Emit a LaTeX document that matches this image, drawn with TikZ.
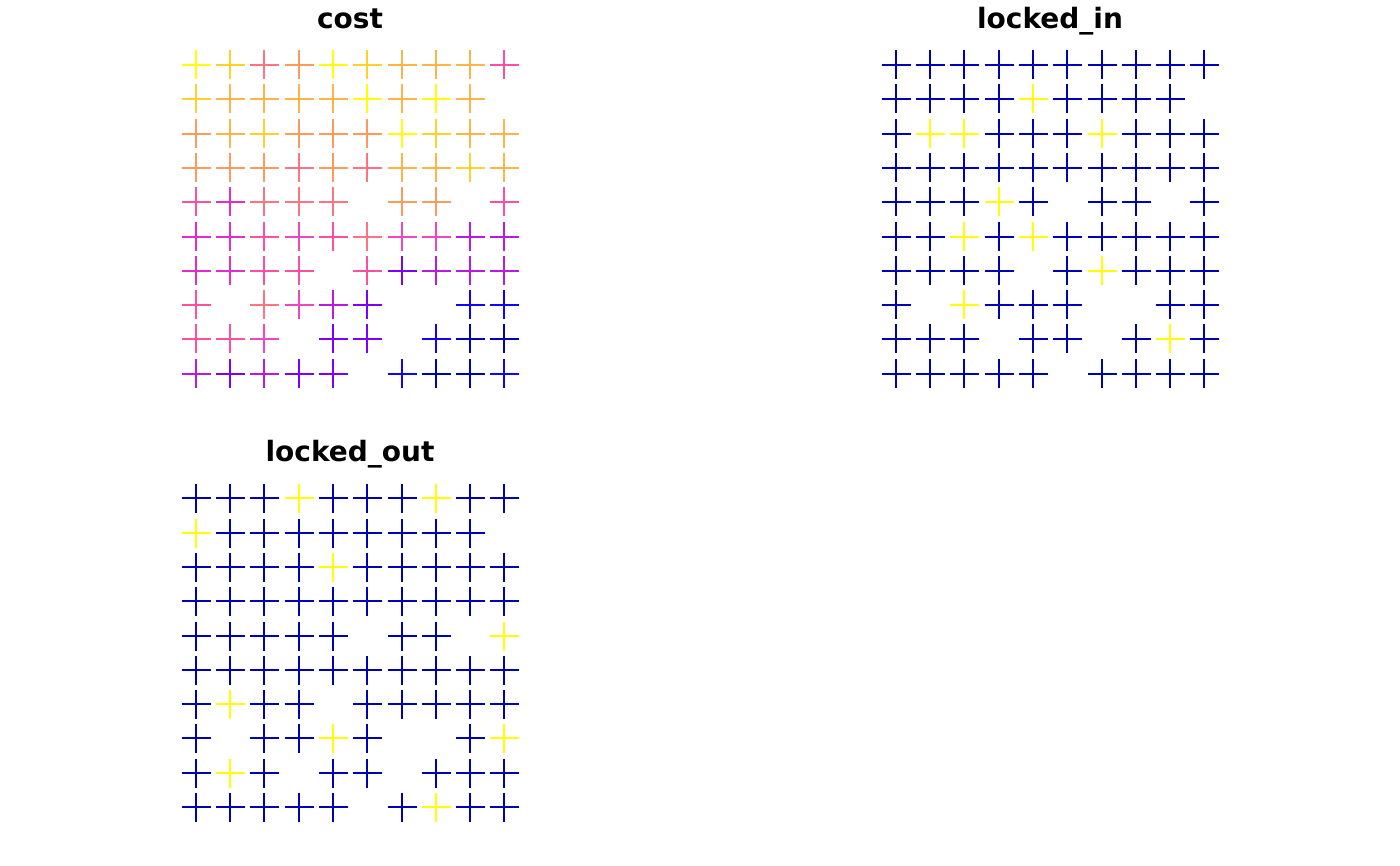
\documentclass[tikz,border=0pt]{standalone}
\usepackage{fontspec}
\setmainfont{DejaVu Sans}
\definecolor{navy}{HTML}{0000B4}
\definecolor{blu}{HTML}{1400FF}
\definecolor{vio}{HTML}{7A00FF}
\definecolor{pur}{HTML}{B51BE3}
\definecolor{mag}{HTML}{E22CCB}
\definecolor{mgp}{HTML}{F046C0}
\definecolor{pnk}{HTML}{FF4FA0}
\definecolor{slm}{HTML}{FF7484}
\definecolor{sor}{HTML}{FF9A5E}
\definecolor{org}{HTML}{FFB446}
\definecolor{gld}{HTML}{FFD22A}
\definecolor{yel}{HTML}{FFFF00}
\tikzset{
  cN/.style={draw=navy}, cB/.style={draw=blu}, cV/.style={draw=vio},
  cU/.style={draw=pur}, cM/.style={draw=mag}, cQ/.style={draw=mgp},
  cP/.style={draw=pnk}, cS/.style={draw=slm}, cO/.style={draw=sor},
  cA/.style={draw=org}, cG/.style={draw=gld}, cY/.style={draw=yel},
  cX/.style={draw=none},
  paneltitle/.style={font=\bfseries\fontsize{21}{24}\selectfont, anchor=base, inner sep=0pt}
}
% one plus marker at a coordinate
\newcommand{\plusmark}[2]{\draw[#1] (#2) ++(-14.5,0) -- ++(29,0) (#2) ++(0,-14.5) -- ++(0,29);}
% a 10x10 panel of markers, one colour code per cell (X = no cell)
\newcommand{\panel}[3]{%
  \foreach \row [count=\r] in {#3} {
    \foreach \col [count=\c] in \row {
      \coordinate (pt) at ({round(#1+34.3*(\c-1))},{round(#2+34.3*(\r-1))});
      \plusmark{c\col}{pt}
    }
  }}

\begin{document}
\begin{tikzpicture}[x=0.75pt,y=-0.75pt,line width=1.5pt]
\useasboundingbox (0,0) rectangle (1400,866);

\node[paneltitle] (costtitle) at (350,29) {cost};
\node[paneltitle] (intitle) at (1050,29) {locked\_in};
\node[paneltitle] (outtitle) at (350,461) {locked\_out};

%cost
\panel{195.7}{65}{
  {Y,G,S,O,Y,G,A,A,A,P},
  {G,A,A,A,A,Y,A,Y,A,X},
  {O,A,G,O,O,O,Y,G,A,A},
  {O,O,O,S,O,S,A,A,G,A},
  {P,M,S,S,S,X,O,O,X,P},
  {M,M,P,Q,P,S,Q,Q,U,U},
  {M,M,P,P,X,P,V,U,U,U},
  {P,X,S,Q,U,V,X,X,B,B},
  {P,P,Q,X,V,V,X,B,N,N},
  {U,V,U,V,V,X,B,N,N,B}}

%locked_in
\panel{895.7}{65}{
  {N,N,N,N,N,N,N,N,N,N},
  {N,N,N,N,Y,N,N,N,N,X},
  {N,Y,Y,N,N,N,Y,N,N,N},
  {N,N,N,N,N,N,N,N,N,N},
  {N,N,N,Y,N,X,N,N,X,N},
  {N,N,Y,N,Y,N,N,N,N,N},
  {N,N,N,N,X,N,Y,N,N,N},
  {N,X,Y,N,N,N,X,X,N,N},
  {N,N,N,X,N,N,X,N,Y,N},
  {N,N,N,N,N,X,N,N,N,N}}

%locked_out
\panel{195.7}{498.3}{
  {N,N,N,Y,N,N,N,Y,N,N},
  {Y,N,N,N,N,N,N,N,N,X},
  {N,N,N,N,Y,N,N,N,N,N},
  {N,N,N,N,N,N,N,N,N,N},
  {N,N,N,N,N,X,N,N,X,Y},
  {N,N,N,N,N,N,N,N,N,N},
  {N,Y,N,N,X,N,N,N,N,N},
  {N,X,N,N,Y,N,X,X,N,Y},
  {N,Y,N,X,N,N,X,N,N,N},
  {N,N,N,N,N,X,N,Y,N,N}}
\end{tikzpicture}
\end{document}
